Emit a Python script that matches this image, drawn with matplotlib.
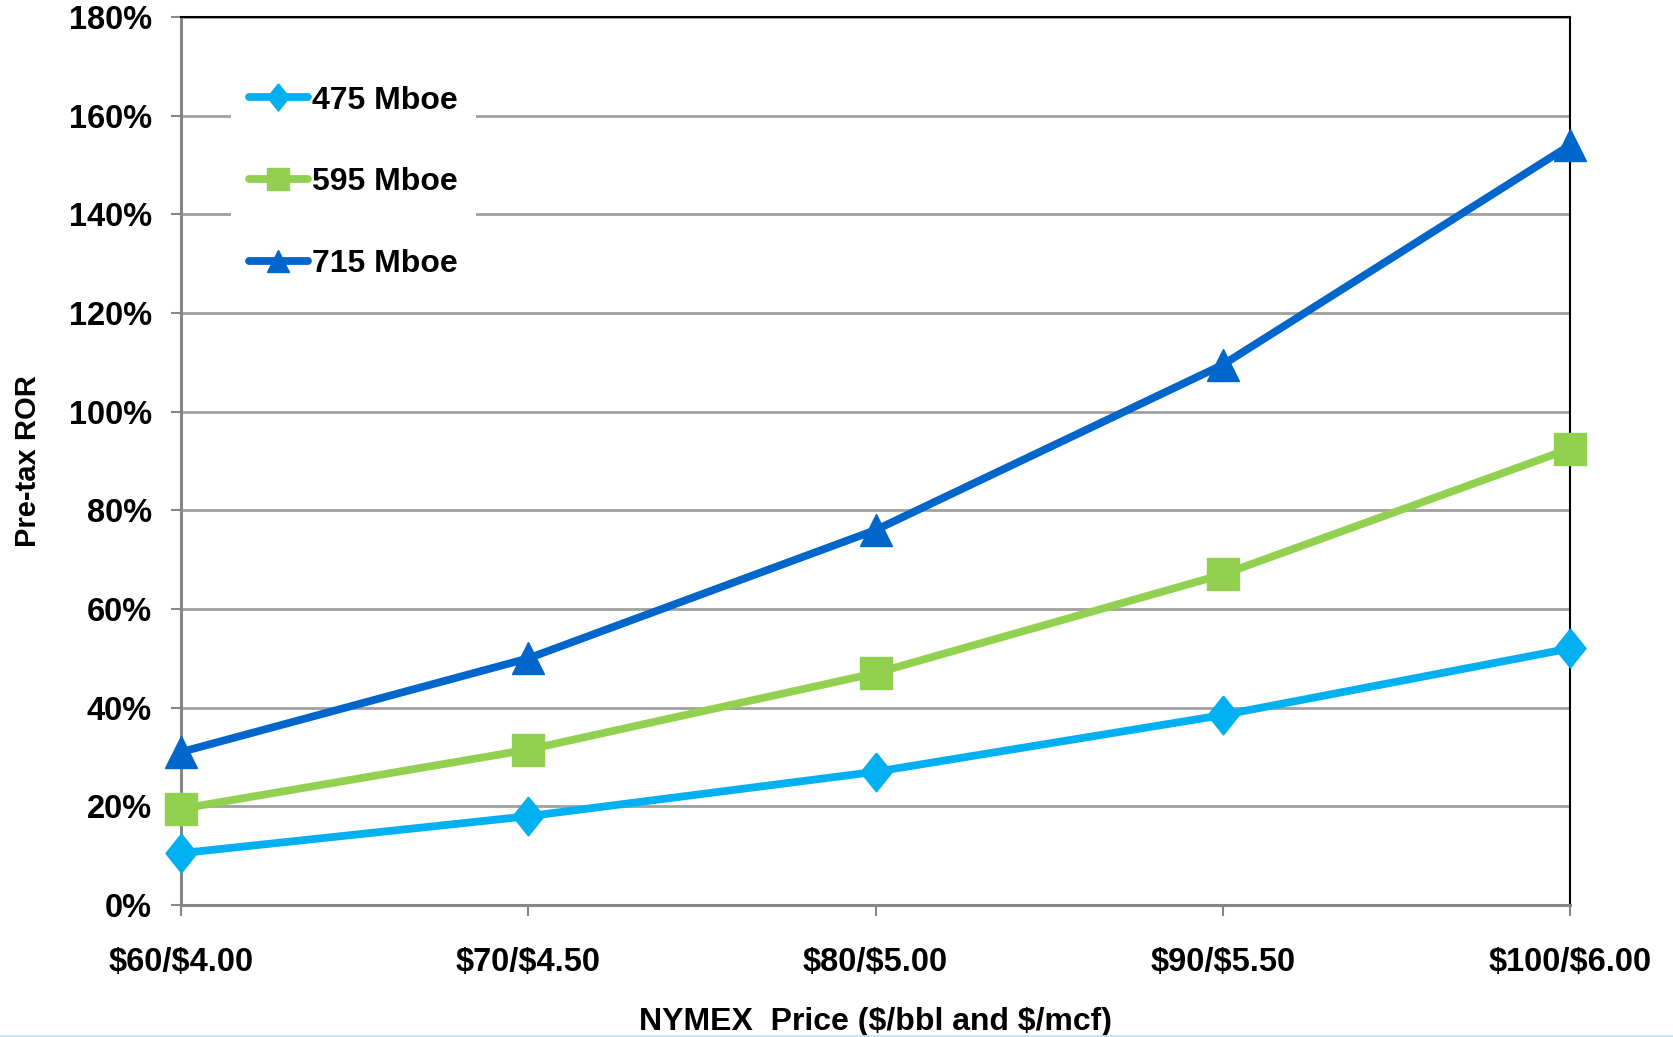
import matplotlib
matplotlib.use("Agg")
import matplotlib.pyplot as plt
from matplotlib.lines import Line2D

# Price decks and pre-tax rate of return (%) for three reserve cases
price_decks = ["$60/$4.00", "$70/$4.50", "$80/$5.00", "$90/$5.50", "$100/$6.00"]
ror_475 = [10.5, 18.0, 27.0, 38.5, 52.0]
ror_595 = [19.5, 31.5, 47.0, 67.0, 92.5]
ror_715 = [31.0, 50.0, 76.0, 109.5, 154.0]
series_labels = ["475 Mboe", "595 Mboe", "715 Mboe"]
y_ticks = [0, 20, 40, 60, 80, 100, 120, 140, 160, 180]

BOLD = ["Liberation Sans", "DejaVu Sans"]

W, H = 1673, 1037
fig = plt.figure(figsize=(W / 100, H / 100), dpi=100)
fig.patch.set_facecolor("white")
ax = fig.add_axes([181 / W, 1 - 905 / H, (1570 - 181) / W, (905 - 17) / H])

diamond = [(0, 1), (0.8, 0), (0, -1), (-0.8, 0), (0, 1)]
styles = [
    (ror_475, "#00B0F0", diamond, 28),
    (ror_595, "#92D050", "s", 23),
    (ror_715, "#0066CC", "^", 23.5),
]
x = list(range(len(price_decks)))
handles = []
for (vals, color, marker, ms), label in zip(styles, series_labels):
    ax.plot(x, vals, color=color, lw=5.6, marker=marker, ms=ms,
            mec=color, mfc=color, clip_on=False, zorder=5,
            solid_capstyle="round", label=label)
    handles.append(Line2D([0], [0], color=color, lw=5.6, marker=marker,
                          ms=ms * 0.7, mec=color, mfc=color,
                          solid_capstyle="round"))

ax.set_xlim(0, len(price_decks) - 1)
ax.set_ylim(0, 180)
ax.set_yticks(y_ticks)
ax.set_yticklabels([f"{v}%" for v in y_ticks], fontsize=23.5,
                   fontweight="bold", family=BOLD)
ax.set_xticks(x)
ax.set_xticklabels([p.replace("$", r"\$") for p in price_decks],
                   fontsize=23.5, fontweight="bold", family=BOLD)

ax.yaxis.grid(True, color="#A0A0A0", lw=2)
ax.set_axisbelow(True)
ax.tick_params(axis="y", direction="out", length=7, width=1.5,
               color="#868686", pad=14)
ax.tick_params(axis="x", direction="out", length=8, width=1.5,
               color="#868686", pad=22)

for side in ("left", "bottom"):
    ax.spines[side].set_color("#868686")
    ax.spines[side].set_linewidth(2.2)
for side in ("top", "right"):
    ax.spines[side].set_color("black")
    ax.spines[side].set_linewidth(1.5)

ax.set_ylabel("Pre-tax ROR", fontsize=21, fontweight="bold", family=BOLD,
              labelpad=19)
ax.set_xlabel(r"NYMEX  Price (\$/bbl and \$/mcf)", fontsize=23,
              fontweight="bold", family=BOLD, labelpad=21)

leg = ax.legend(handles, series_labels, loc="center left",
                bbox_to_anchor=(0.0245, 0.8139), frameon=True,
                prop={"family": BOLD, "weight": "bold", "size": 23},
                handlelength=1.85, handletextpad=0.15, labelspacing=1.62,
                borderpad=0.55, fancybox=False)
leg.get_frame().set_facecolor("white")
leg.get_frame().set_edgecolor("none")
leg.get_frame().set_alpha(1)
leg.set_zorder(6)

# faint rule along the bottom edge of the slide
fig.add_artist(Line2D([0, 1], [1.5 / H, 1.5 / H], color="#C9E3F5", lw=2,
                      transform=fig.transFigure))

fig.savefig("out.png", dpi=100, facecolor="white")
